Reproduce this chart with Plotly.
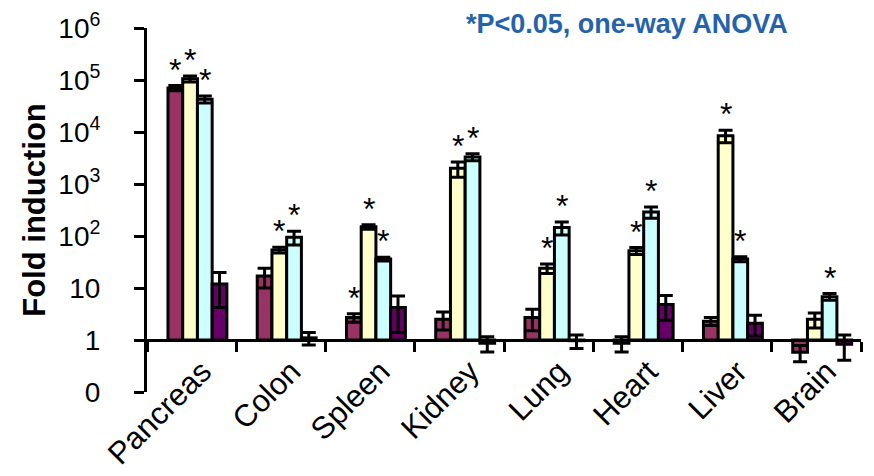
import math
import plotly.graph_objects as go

categories = ["Pancreas", "Colon", "Spleen", "Kidney", "Lung", "Heart", "Liver", "Brain"]

series_names = ["Group 1", "Group 2", "Group 3", "Group 4"]
series_colors = ["#993366", "#FFFFCC", "#CCFFFF", "#660066"]

group1_values = [70000, 17, 2.7, 2.5, 2.7, 0.87, 2.3, 0.58]
group1_errors = [8000, 7, 0.5, 0.95, 1.2, 0.28, 0.4, 0.2]
group1_sig = [True, False, True, False, False, False, False, False]

group2_values = [106000, 54, 150, 2000, 24, 52, 8500, 2.5]
group2_errors = [14000, 7, 15, 650, 5, 8, 2300, 0.8]
group2_sig = [True, True, True, True, True, True, True, False]

group3_values = [42500, 95, 36, 3300, 145, 290, 36, 6.8]
group3_errors = [6500, 28, 3, 500, 40, 70, 4, 1.0]
group3_sig = [True, True, True, True, True, True, True, True]

group4_values = [12, 1.1, 4.2, 0.87, 0.97, 4.8, 2.1, 0.83]
group4_errors = [7.8, 0.3, 2.8, 0.28, 0.28, 2.4, 0.9, 0.42]
group4_sig = [False] * 8

y_tick_values = [0.1, 1, 10, 100, 1000, 10000, 100000, 1000000]
y_tick_labels = ["0", "1", "10", "10<sup>2</sup>", "10<sup>3</sup>", "10<sup>4</sup>",
                 "10<sup>5</sup>", "10<sup>6</sup>"]

note_text = "*P<0.05, one-way ANOVA"
y_title = "Fold induction"

all_values = [group1_values, group2_values, group3_values, group4_values]
all_errors = [group1_errors, group2_errors, group3_errors, group4_errors]
all_sig = [group1_sig, group2_sig, group3_sig, group4_sig]

BASE = 1
bar_w = 0.165
group_start = -0.265
offsets = [group_start + bar_w * (k + 0.5) for k in range(4)]

FONT = "Arial, Liberation Sans, sans-serif"

fig = go.Figure()
annotations = []
for k in range(4):
    xs = [i + offsets[k] for i in range(len(categories))]
    vals = all_values[k]
    errs = all_errors[k]
    fig.add_trace(go.Bar(
        name=series_names[k],
        x=xs,
        y=[v - BASE for v in vals],
        base=BASE,
        width=bar_w,
        marker=dict(color=series_colors[k], line=dict(color="black", width=3)),
        error_y=dict(type="data", array=errs, symmetric=True, color="black",
                     thickness=3, width=7),
    ))
    for i, s in enumerate(all_sig[k]):
        if s:
            annotations.append(dict(
                x=xs[i], y=math.log10(vals[i] + errs[i]), xref="x", yref="y",
                text="*", showarrow=False, yanchor="bottom", xanchor="center",
                yshift=-4, font=dict(family=FONT, size=32, color="black"),
            ))

annotations.append(dict(
    x=0.672, y=1.011, xref="paper", yref="paper", text="<b>" + note_text + "</b>",
    showarrow=False, xanchor="center", yanchor="middle",
    font=dict(family=FONT, size=27, color="#2463AC"),
))

n = len(categories)
# the page body adds an 8px margin around the figure, so the figure is
# drawn 8px smaller and margins are reduced to keep the plot area in place
fig.update_layout(
    width=866, height=468,
    margin=dict(l=139, r=13, t=20, b=84, autoexpand=False),
    paper_bgcolor="white", plot_bgcolor="white",
    barmode="overlay", showlegend=False,
    annotations=annotations,
    font=dict(family=FONT, color="black"),
    xaxis=dict(
        range=[-0.5, n - 0.5],
        tickmode="array",
        tickvals=[i + 0.12 for i in range(n)],
        ticktext=categories,
        tickangle=-45,
        ticks="outside", ticklen=0, tickwidth=0,
        tickfont=dict(family=FONT, size=31, color="black"),
        ticklabelstandoff=-1,
        showline=True, linewidth=3, linecolor="black",
        showgrid=False, zeroline=False,
        anchor="free", position=1 / 7,
        automargin=False,
        minor=dict(tickmode="array", tickvals=[i + 0.5 for i in range(-1, n)],
                   ticks="outside", ticklen=10, tickwidth=3, tickcolor="black",
                   showgrid=False),
    ),
    yaxis=dict(
        type="log", range=[-1, 6],
        tickmode="array", tickvals=y_tick_values, ticktext=y_tick_labels,
        ticks="outside", ticklen=10, tickwidth=3, tickcolor="black",
        tickfont=dict(family=FONT, size=28, color="black"),
        ticklabelstandoff=28,
        showline=True, linewidth=3, linecolor="black",
        showgrid=False, zeroline=False,
        automargin=False,
        title=dict(text="<b>" + y_title + "</b>", standoff=4,
                   font=dict(family=FONT, size=31, color="black")),
    ),
)

fig.write_html("out.html")
